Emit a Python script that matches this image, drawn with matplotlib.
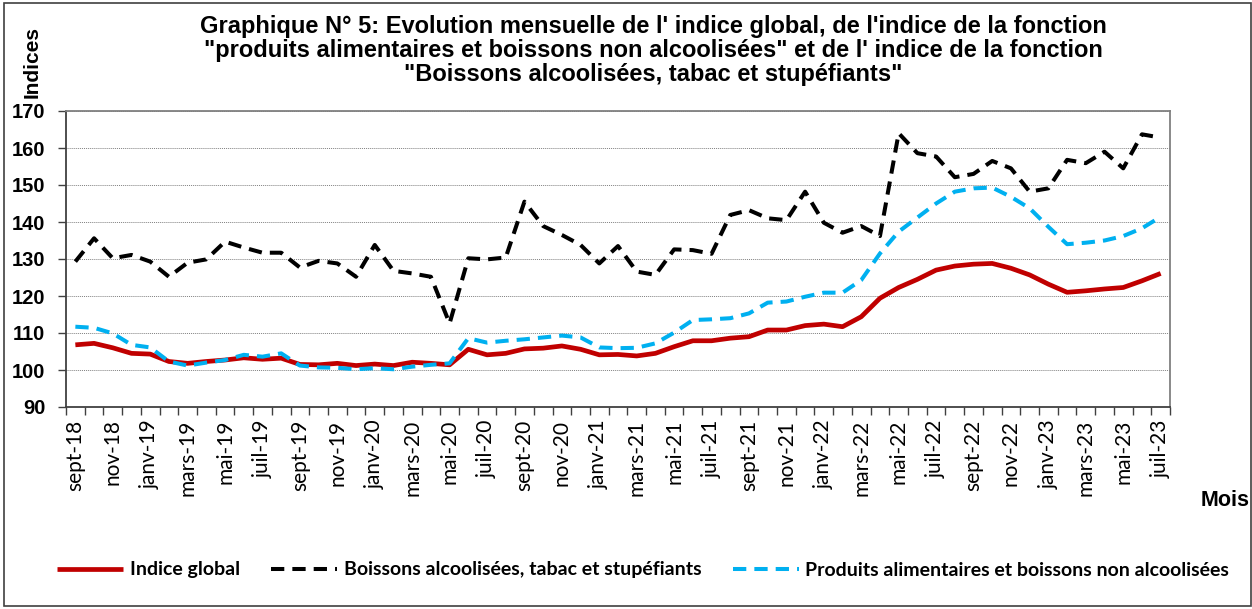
import matplotlib
matplotlib.use("Agg")
import matplotlib.pyplot as plt
from matplotlib.patches import Rectangle

months_fr = ["janv", "févr", "mars", "avr", "mai", "juin", "juil", "août", "sept", "oct", "nov", "déc"]
# Sept 2018 .. Juil 2023 (59 months)
categories = []
m, y = 8, 18
for _ in range(59):
    categories.append(f"{months_fr[m]}-{y:02d}")
    m += 1
    if m == 12:
        m, y = 0, y + 1

indice_global = [106.8, 107.2, 106.0, 104.5, 104.3, 102.3, 101.8, 102.3, 102.7, 103.3,
                 102.9, 103.2, 101.5, 101.4, 101.8, 101.2, 101.6, 101.2, 102.1, 101.8,
                 101.4, 105.6, 104.1, 104.5, 105.7, 105.9, 106.5, 105.6, 104.1, 104.2,
                 103.8, 104.5, 106.3, 107.9, 107.9, 108.6, 109.0, 110.8, 110.8, 112.0,
                 112.4, 111.7, 114.4, 119.4, 122.3, 124.5, 127.0, 128.1, 128.6, 128.8,
                 127.5, 125.7, 123.2, 121.0, 121.4, 121.9, 122.3, 124.1, 126.1]

boissons_alcool = [129.3, 135.6, 130.2, 131.1, 129.3, 125.2, 129.0, 129.9, 134.7, 133.1,
                   131.7, 131.7, 127.7, 129.5, 128.8, 125.2, 133.8, 126.8, 126.1, 125.2,
                   112.6, 130.2, 129.9, 130.4, 145.5, 138.9, 136.5, 133.8, 128.8, 133.5,
                   126.6, 125.7, 132.6, 132.4, 131.4, 141.9, 143.2, 141.0, 140.5, 148.2,
                   139.8, 137.1, 138.9, 136.2, 164.0, 158.6, 157.7, 152.1, 153.0, 156.5,
                   154.5, 148.2, 149.1, 156.8, 155.9, 159.0, 154.5, 163.7, 162.8]

produits_alim = [111.7, 111.4, 109.9, 106.8, 106.1, 102.3, 101.2, 102.0, 102.7, 104.1,
                 103.6, 104.5, 101.2, 100.7, 100.6, 100.2, 100.5, 100.2, 100.9, 101.4,
                 101.8, 108.6, 107.4, 107.9, 108.3, 108.8, 109.3, 108.8, 106.1, 105.9,
                 106.0, 107.2, 110.1, 113.5, 113.7, 114.0, 115.3, 118.2, 118.5, 119.8,
                 120.9, 120.9, 124.3, 131.5, 137.4, 141.2, 145.0, 148.2, 149.1, 149.3,
                 146.8, 143.7, 138.7, 134.0, 134.4, 135.0, 136.2, 138.3, 141.4]

y_ticks = [90, 100, 110, 120, 130, 140, 150, 160, 170]

W, H = 1252, 609
fig = plt.figure(figsize=(W / 100, H / 100), dpi=100)
ax = fig.add_axes([66 / W, 1 - 407 / H, (1170 - 66) / W, (407 - 111) / H])

x = list(range(len(categories)))
l1, = ax.plot(x, indice_global, color="#C00000", lw=3.4, solid_capstyle="butt",
              label="Indice global", zorder=3)
l2, = ax.plot(x, boissons_alcool, color="black", lw=2.9, dashes=(3.3, 2.0),
              label="Boissons alcoolisées, tabac et stupéfiants", zorder=4)
l3, = ax.plot(x, produits_alim, color="#00B0F0", lw=2.9, dashes=(3.3, 2.0),
              label="Produits alimentaires et boissons non alcoolisées", zorder=3)

ax.set_xlim(-0.5, len(categories) - 0.5)
ax.set_ylim(90, 170)
ax.set_yticks(y_ticks)
ax.set_yticklabels([str(v) for v in y_ticks], fontfamily="Liberation Sans",
                   fontweight="bold", fontsize=14.5)
ax.yaxis.grid(True, color="#808080", lw=0.7, ls=(0, (1, 1)))
ax.set_axisbelow(True)

# category boundary ticks
ax.set_xticks([i - 0.5 for i in range(len(categories) + 1)], minor=False)
ax.set_xticklabels([])
ax.set_xticks(x, minor=True)
ax.set_xticklabels([c if i % 2 == 0 else "" for i, c in enumerate(categories)],
                   minor=True, rotation=90, fontfamily="Lato", fontsize=15)
ax.tick_params(axis="x", which="major", direction="out", length=6, width=1, color="#404040")
ax.tick_params(axis="x", which="minor", length=0, pad=9)
ax.tick_params(axis="y", direction="out", length=6, width=1, color="#404040", pad=9)

for side in ["top", "right"]:
    ax.spines[side].set_color("#808080")
    ax.spines[side].set_linewidth(1.3)
ax.spines["left"].set_color("#404040")
ax.spines["bottom"].set_color("#404040")
ax.spines["left"].set_linewidth(1.3)
ax.spines["bottom"].set_linewidth(1.3)

title = ("Graphique N° 5: Evolution mensuelle de l' indice global, de l'indice de la fonction\n"
         "\"produits alimentaires et boissons non alcoolisées\" et de l' indice de la fonction\n"
         "\"Boissons alcoolisées, tabac et stupéfiants\"")
fig.text(653 / W, 1 - 15 / H, title, ha="center", va="top", fontfamily="Liberation Sans",
         fontweight="bold", fontsize=17, linespacing=1.06)

fig.text(32 / W, 1 - 62 / H, "Indices", rotation=90, ha="center", va="center",
         fontfamily="Liberation Sans", fontweight="bold", fontsize=15)
fig.text(1225 / W, 1 - 500 / H, "Mois", ha="center", va="center",
         fontfamily="Liberation Sans", fontweight="bold", fontsize=15.5)

leg = fig.legend(handles=[l1, l2, l3], loc="center", bbox_to_anchor=(643 / W, 1 - 570 / H),
                 ncol=3, frameon=False, handlelength=3.4, handletextpad=0.35,
                 columnspacing=1.6, prop={"family": "Lato", "weight": "bold", "size": 14})

fig.patches.append(Rectangle((4 / W, 1 - 606 / H), (1251 - 4) / W, (606 - 3) / H,
                             transform=fig.transFigure, fill=False, edgecolor="#404040",
                             lw=1.2))

fig.savefig("out.png", dpi=100)
